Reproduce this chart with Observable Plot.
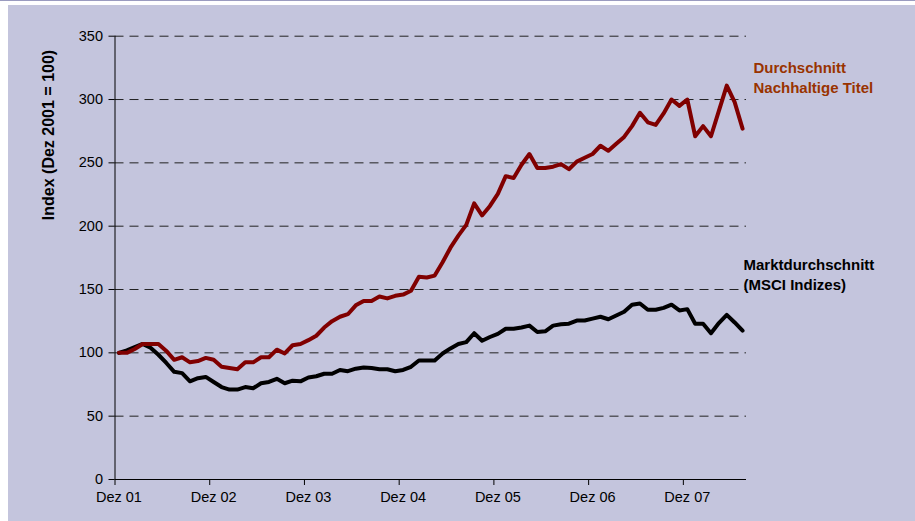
<!DOCTYPE html>
<html><head><meta charset="utf-8">
<script src="https://cdn.jsdelivr.net/npm/d3@7"></script>
<script src="https://cdn.jsdelivr.net/npm/@observablehq/plot@0.6"></script>
<style>
html,body{margin:0;padding:0;background:#fff;width:915px;height:521px;overflow:hidden}
#topline{position:absolute;left:0;top:0;width:915px;height:1px;background:#9a9bbf}
#chart{position:absolute;left:8px;top:5px;width:907px;height:516px;background:#c4c5dd}
</style></head><body>
<div id="topline"></div><div id="chart"></div>
<script>
// Monthly index values, Dez 2001 (index 0) to Jul 2008 (index 79)
const nachhaltig = [100,100,103,107,107,107,101.5,94.5,96.5,92.5,93.5,96,
  94.5,89,88,87,92.5,92.5,96.5,96.5,102.5,99.5,106,107,
  110,113.5,120,125,128.5,130.5,137.5,141,141,144.5,143,145,
  146,149,160,159.5,161,171.5,183,192.5,201,218,208.5,216,
  225.5,239.5,238,248.5,257,246,246,247,249,245,251,254,
  257,263.5,259.5,265,270.5,279,289.5,282,280,289,300,295,
  300,271,279,271,291,311,298,277];
const markt = [100,102,104.5,107,104,98.5,92,85,84,77.5,80,81,
  77,73,71,71,73,72,76,77,79.5,76,78,77.5,
  80.5,81.5,83.5,83.5,86.5,85.5,87.5,88.5,88,87,87,85.5,
  86.5,89,94,94,94,99.5,103.5,107,108.5,115.5,109.5,112.5,
  115,119,119,120,121.5,116.5,117,121.5,122.5,123,125.5,125.5,
  127,128.5,126.5,129.5,132.5,138,139,134,134,135.5,138,133.5,
  134.5,123,123,115.5,123.5,130,124,117.5];
const xTickLabels = ["Dez 01","Dez 02","Dez 03","Dez 04","Dez 05","Dez 06","Dez 07"];
const xLabelPos = [0,12,24,36,48,60,72];
const xTickPos = [-0.5,11.5,23.5,35.5,47.5,59.5,71.5];
const yTicks = [0,50,100,150,200,250,300,350];
const seriesNames = ["Durchschnitt\nNachhaltige Titel","Marktdurchschnitt\n(MSCI Indizes)"];
const yTitle = "Index (Dez 2001 = 100)";

const nachRows = nachhaltig.map((v,i)=>({i, v}));
const marktRows = markt.map((v,i)=>({i, v}));

const chart = Plot.plot({
  width: 907, height: 516,
  marginLeft: 106.5, marginRight: 169, marginTop: 30.7, marginBottom: 42,
  style: {background: "transparent", fontFamily: "'Liberation Sans', Arial, sans-serif", fontSize: "14px", color: "#000", overflow: "visible"},
  x: {domain: [-0.5, 79.5], axis: null},
  y: {domain: [0, 350], axis: null},
  marks: [
    Plot.ruleY(yTicks.filter(d => d > 0), {x1: -0.5, x2: 79.5, stroke: "#222", strokeWidth: 1, strokeDasharray: "9,6"}),
    Plot.ruleX([-0.5], {y1: 0, y2: 350, stroke: "#000"}),
    Plot.ruleY([0], {x1: -0.5, x2: 79.5, stroke: "#000"}),
    Plot.axisY({ticks: yTicks, tickSize: 6, tickPadding: 6, anchor: "left", fontSize: 14.5, label: null}),
    Plot.axisX({ticks: xTickPos, tickSize: 6, tickFormat: () => "", label: null}),
    Plot.axisX({ticks: xLabelPos, tickSize: 0, tickPadding: 12.5, fontSize: 14.5, tickFormat: d => xTickLabels[Math.round(d / 12)], label: null}),
    Plot.line(marktRows, {x: "i", y: "v", stroke: "#000", strokeWidth: 4}),
    Plot.line(nachRows, {x: "i", y: "v", stroke: "#800000", strokeWidth: 4}),
    Plot.text([yTitle], {x: -0.5, y: 272, dx: -66, rotate: -90, fontWeight: "bold", fontSize: 16, fill: "#000"}),
    Plot.text([seriesNames[0]], {x: 79.5, y: 305.5, dx: 7, textAnchor: "start", lineAnchor: "bottom", lineHeight: 1.33, fill: "#993300", fontWeight: "bold", fontSize: 15}),
    Plot.text([seriesNames[1]], {x: 79.5, y: 150, dx: -3, textAnchor: "start", lineAnchor: "bottom", lineHeight: 1.33, fill: "#000", fontWeight: "bold", fontSize: 15})
  ]
});
document.getElementById("chart").appendChild(chart);
</script>
</body></html>
